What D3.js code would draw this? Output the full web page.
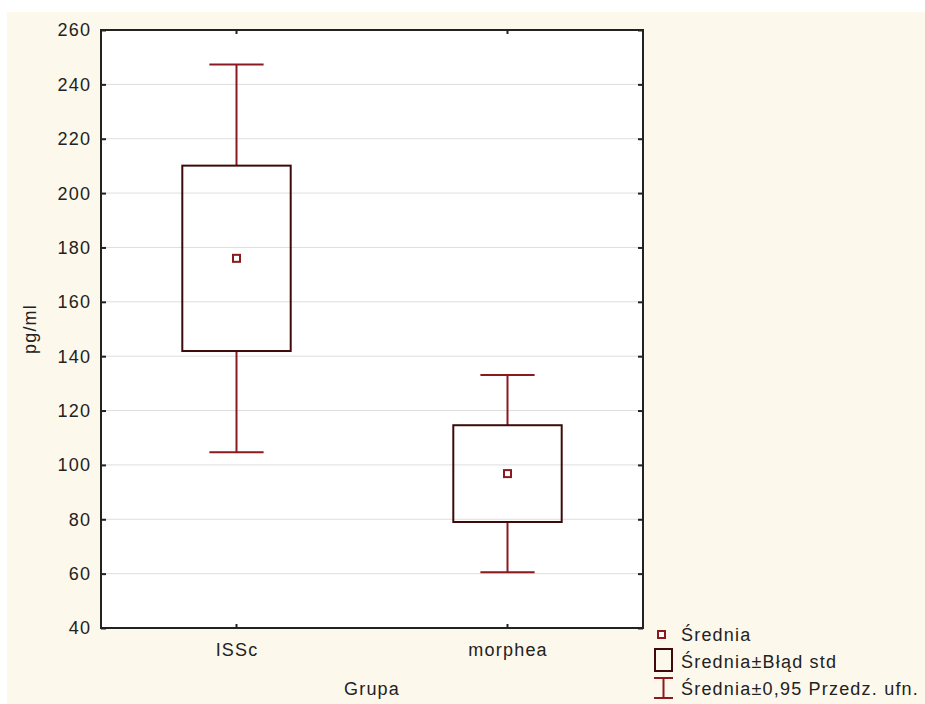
<!DOCTYPE html>
<html>
<head>
<meta charset="utf-8">
<script src="https://cdn.jsdelivr.net/npm/d3@7/dist/d3.min.js"></script>
<style>
  html, body { margin: 0; padding: 0; background: #ffffff; }
  svg { display: block; }
  text { font-family: "Liberation Sans", Arial, sans-serif; fill: #222222; }
</style>
</head>
<body>
<svg id="chart" width="925" height="704"></svg>
<script>
// Group means with standard error and 95% confidence half-widths (pg/ml)
const groups = ["ISSc", "morphea"];
const means = [176.0, 96.8];
const stdErr = [34.1, 17.8];
const ci95 = [71.3, 36.3];
const yTicks = [40, 60, 80, 100, 120, 140, 160, 180, 200, 220, 240, 260];
const yTitle = "pg/ml";
const xTitle = "Grupa";
const legendLabels = ["Średnia", "Średnia±Błąd std", "Średnia±0,95 Przedz. ufn."];

const W = 925, H = 704;
const plot = { left: 101, right: 643, top: 30, bottom: 628 };
const fontSize = 18, ls = 1.2;
const whiskerColor = "#8a1a1e";
const boxColor = "#3d0b0c";
const axisColor = "#222222";

const svg = d3.select("#chart");

// panel background
svg.append("rect").attr("x", 7).attr("y", 12).attr("width", W - 7).attr("height", H - 12)
  .attr("fill", "#fdf8ec");
svg.append("rect").attr("x", plot.left).attr("y", plot.top)
  .attr("width", plot.right - plot.left).attr("height", plot.bottom - plot.top)
  .attr("fill", "#ffffff");

const x = d3.scaleBand().domain(groups).range([plot.left, plot.right]).padding(0);
const y = d3.scaleLinear().domain([40, 260]).range([plot.bottom, plot.top]);
const bw = x.bandwidth();

// horizontal grid
svg.append("g").selectAll("line")
  .data(yTicks.filter(t => t > 40 && t < 260))
  .join("line")
  .attr("x1", plot.left).attr("x2", plot.right)
  .attr("y1", d => y(d)).attr("y2", d => y(d))
  .attr("stroke", "#dedede").attr("stroke-width", 1);

// y axis (ticks pointing into the plot)
const yAxis = svg.append("g").attr("transform", `translate(${plot.left},0)`)
  .call(d3.axisRight(y).tickValues(yTicks).tickSize(5).tickFormat(""));
yAxis.select(".domain").remove();
yAxis.selectAll("line").attr("stroke", axisColor).attr("stroke-width", 2);

const yAxisR = svg.append("g").attr("transform", `translate(${plot.right},0)`)
  .call(d3.axisLeft(y).tickValues(yTicks).tickSize(5).tickFormat(""));
yAxisR.select(".domain").remove();
yAxisR.selectAll("line").attr("stroke", axisColor).attr("stroke-width", 2);

svg.append("g").selectAll("text")
  .data(yTicks)
  .join("text")
  .attr("x", plot.left - 11 + ls)
  .attr("y", d => y(d))
  .attr("dy", "0.36em")
  .attr("text-anchor", "end")
  .attr("font-size", fontSize)
  .attr("letter-spacing", ls)
  .text(d => d);

// x axis ticks (bottom upward, top downward)
const xB = svg.append("g").attr("transform", `translate(0,${plot.bottom})`)
  .call(d3.axisTop(x).tickSize(4).tickFormat(""));
xB.select(".domain").remove();
xB.selectAll("line").attr("stroke", axisColor).attr("stroke-width", 2);
const xT = svg.append("g").attr("transform", `translate(0,${plot.top})`)
  .call(d3.axisBottom(x).tickSize(4).tickFormat(""));
xT.select(".domain").remove();
xT.selectAll("line").attr("stroke", axisColor).attr("stroke-width", 2);

svg.append("g").selectAll("text")
  .data(groups)
  .join("text")
  .attr("x", d => x(d) + bw / 2 + ls / 2)
  .attr("y", 656)
  .attr("text-anchor", "middle")
  .attr("font-size", fontSize)
  .attr("letter-spacing", ls)
  .text(d => d);

// frame
svg.append("rect").attr("x", plot.left).attr("y", plot.top)
  .attr("width", plot.right - plot.left).attr("height", plot.bottom - plot.top)
  .attr("fill", "none").attr("stroke", axisColor).attr("stroke-width", 2);

// whiskers (mean ± 95% CI), boxes (mean ± SE) and mean markers
const capW = bw * 0.2, boxW = bw * 0.4;
const g = svg.append("g");
groups.forEach((grp, i) => {
  const cx = x(grp) + bw / 2;
  const lo = means[i] - ci95[i], hi = means[i] + ci95[i];
  const seLo = means[i] - stdErr[i], seHi = means[i] + stdErr[i];
  g.append("line").attr("x1", cx).attr("x2", cx).attr("y1", y(hi)).attr("y2", y(seHi))
    .attr("stroke", whiskerColor).attr("stroke-width", 2);
  g.append("line").attr("x1", cx).attr("x2", cx).attr("y1", y(seLo)).attr("y2", y(lo))
    .attr("stroke", whiskerColor).attr("stroke-width", 2);
  g.append("line").attr("x1", cx - capW / 2).attr("x2", cx + capW / 2).attr("y1", y(hi)).attr("y2", y(hi))
    .attr("stroke", whiskerColor).attr("stroke-width", 2);
  g.append("line").attr("x1", cx - capW / 2).attr("x2", cx + capW / 2).attr("y1", y(lo)).attr("y2", y(lo))
    .attr("stroke", whiskerColor).attr("stroke-width", 2);
  g.append("rect").attr("x", cx - boxW / 2).attr("y", y(seHi))
    .attr("width", boxW).attr("height", y(seLo) - y(seHi))
    .attr("fill", "none").attr("stroke", boxColor).attr("stroke-width", 2);
  g.append("rect").attr("x", cx - 3.5).attr("y", y(means[i]) - 3.5)
    .attr("width", 7).attr("height", 7)
    .attr("fill", "#ffffff").attr("stroke", whiskerColor).attr("stroke-width", 2);
});

// axis titles
svg.append("text")
  .attr("transform", `translate(36,${(plot.top + plot.bottom) / 2}) rotate(-90)`)
  .attr("text-anchor", "middle")
  .attr("font-size", fontSize)
  .attr("letter-spacing", ls)
  .text(yTitle);
svg.append("text")
  .attr("x", (plot.left + plot.right) / 2)
  .attr("y", 695)
  .attr("text-anchor", "middle")
  .attr("font-size", fontSize)
  .attr("letter-spacing", ls)
  .text(xTitle);

// legend
const lg = svg.append("g");
lg.append("rect").attr("x", 658).attr("y", 631).attr("width", 7).attr("height", 7)
  .attr("fill", "#ffffff").attr("stroke", whiskerColor).attr("stroke-width", 2);
lg.append("rect").attr("x", 655).attr("y", 649).attr("width", 17).attr("height", 22)
  .attr("fill", "none").attr("stroke", boxColor).attr("stroke-width", 2);
lg.append("line").attr("x1", 663.5).attr("x2", 663.5).attr("y1", 678).attr("y2", 698)
  .attr("stroke", whiskerColor).attr("stroke-width", 2);
lg.append("line").attr("x1", 654).attr("x2", 673).attr("y1", 678).attr("y2", 678)
  .attr("stroke", whiskerColor).attr("stroke-width", 2);
lg.append("line").attr("x1", 654).attr("x2", 673).attr("y1", 698).attr("y2", 698)
  .attr("stroke", whiskerColor).attr("stroke-width", 2);
lg.selectAll("text")
  .data(legendLabels)
  .join("text")
  .attr("x", 681)
  .attr("y", (d, i) => [641, 668, 695][i])
  .attr("font-size", fontSize)
  .attr("letter-spacing", ls)
  .text(d => d);
</script>
</body>
</html>
